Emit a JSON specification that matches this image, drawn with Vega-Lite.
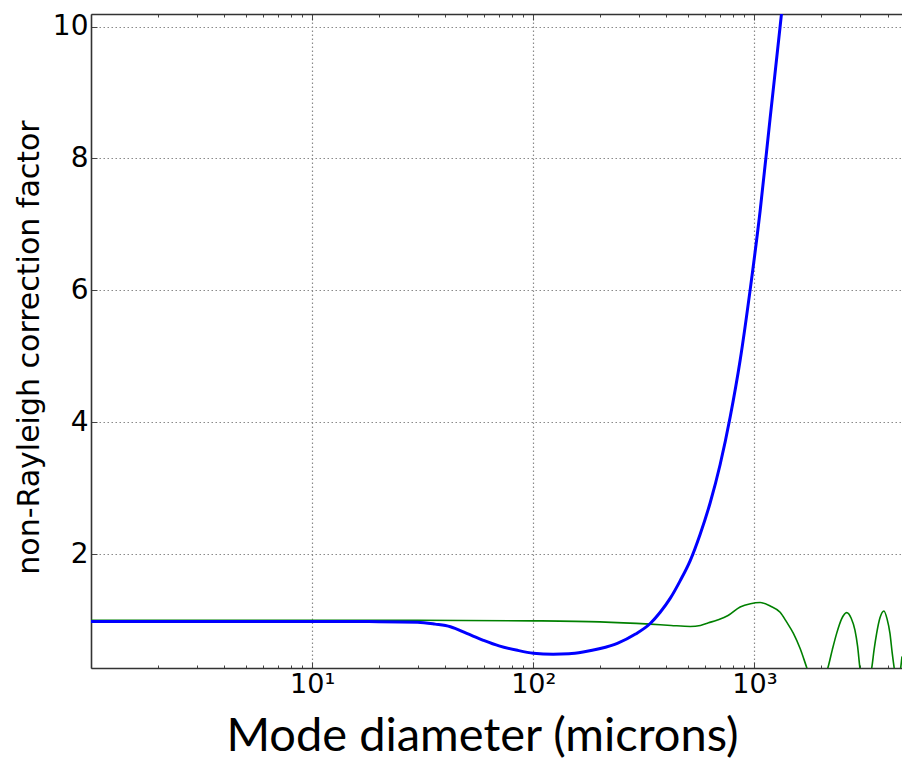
{
  "$schema": "https://vega.github.io/schema/vega-lite/v6.json",
  "width": 811,
  "height": 654,
  "autosize": {"type": "none"},
  "padding": {"left": 91, "top": 14, "right": 0, "bottom": 97},
  "background": "white",
  "config": {"view": {"stroke": null}},
  "datasets": {
    "curveA": [
      {"d": 1, "v": 0.98}, {"d": 3, "v": 0.98}, {"d": 10, "v": 0.98}, {"d": 20, "v": 0.978},
      {"d": 30, "v": 0.97}, {"d": 36, "v": 0.94}, {"d": 42.2, "v": 0.9}, {"d": 50, "v": 0.8},
      {"d": 59.5, "v": 0.695}, {"d": 70, "v": 0.61}, {"d": 84.8, "v": 0.543}, {"d": 100, "v": 0.5},
      {"d": 123, "v": 0.483}, {"d": 145, "v": 0.49}, {"d": 168, "v": 0.517}, {"d": 201, "v": 0.57},
      {"d": 240, "v": 0.65}, {"d": 290, "v": 0.79}, {"d": 338, "v": 0.95}, {"d": 375, "v": 1.12},
      {"d": 416, "v": 1.33}, {"d": 462, "v": 1.6}, {"d": 512, "v": 1.9}, {"d": 568, "v": 2.3},
      {"d": 631, "v": 2.78}, {"d": 700, "v": 3.36}, {"d": 777, "v": 4.08}, {"d": 862, "v": 4.94},
      {"d": 956, "v": 6.0}, {"d": 1061, "v": 7.2}, {"d": 1177, "v": 8.6}, {"d": 1307, "v": 10.0},
      {"d": 1376, "v": 10.7}
    ],
    "curveB": [
      {"d": 1, "v": 1.0}, {"d": 10, "v": 1.0}, {"d": 30, "v": 0.998}, {"d": 100, "v": 0.99},
      {"d": 200, "v": 0.975}, {"d": 338, "v": 0.94}, {"d": 420, "v": 0.92}, {"d": 513, "v": 0.905},
      {"d": 570, "v": 0.92}, {"d": 620, "v": 0.96}, {"d": 676, "v": 1.0}, {"d": 760, "v": 1.07},
      {"d": 862, "v": 1.2}, {"d": 960, "v": 1.25}, {"d": 1061, "v": 1.267}, {"d": 1180, "v": 1.215},
      {"d": 1307, "v": 1.12}, {"d": 1400, "v": 0.97}, {"d": 1501, "v": 0.8}, {"d": 1610, "v": 0.57},
      {"d": 1725, "v": 0.28}, {"d": 1800, "v": 0.1}, {"d": 1930, "v": 0.0}, {"d": 2050, "v": 0.1},
      {"d": 2146, "v": 0.27}, {"d": 2250, "v": 0.55}, {"d": 2355, "v": 0.8}, {"d": 2480, "v": 1.02},
      {"d": 2614, "v": 1.115}, {"d": 2740, "v": 1.03}, {"d": 2849, "v": 0.85}, {"d": 2930, "v": 0.6},
      {"d": 3002, "v": 0.27}, {"d": 3080, "v": 0.1}, {"d": 3200, "v": 0.0}, {"d": 3300, "v": 0.1},
      {"d": 3391, "v": 0.27}, {"d": 3480, "v": 0.56}, {"d": 3571, "v": 0.8}, {"d": 3700, "v": 1.04},
      {"d": 3853, "v": 1.14}, {"d": 3980, "v": 1.02}, {"d": 4102, "v": 0.8}, {"d": 4200, "v": 0.5},
      {"d": 4289, "v": 0.27}, {"d": 4400, "v": 0.05}, {"d": 4500, "v": 0.1}, {"d": 4584, "v": 0.27},
      {"d": 4650, "v": 0.45}
    ]
  },
  "layer": [
    {
      "data": {"name": "curveB"},
      "mark": {"type": "line", "color": "#008000", "strokeWidth": 1.6, "interpolate": "monotone", "clip": true},
      "encoding": {
        "x": {
          "field": "d", "type": "quantitative",
          "scale": {"type": "log", "domain": [1, 4650], "nice": false},
          "axis": {
            "orient": "bottom",
            "values": [1,2,3,4,5,6,7,8,9,10,20,30,40,50,60,70,80,90,100,200,300,400,500,600,700,800,900,1000,2000,3000,4000],
            "labelExpr": "datum.value == 10 ? '10¹' : datum.value == 100 ? '10²' : datum.value == 1000 ? '10³' : ''",
            "grid": true,
            "gridDash": [1.5, 2.5],
            "gridColor": "#8a8a8a",
            "gridWidth": 1.2,
            "gridOpacity": {"condition": {"test": "datum.value == 10 || datum.value == 100 || datum.value == 1000", "value": 1}, "value": 0},
            "tickSize": {"condition": {"test": "datum.value == 10 || datum.value == 100 || datum.value == 1000", "value": -6}, "value": -3},
            "tickColor": "#444",
            "tickWidth": 1,
            "domainColor": "#333",
            "domainWidth": 1.6,
            "labelFont": "DejaVu Sans",
            "labelFontSize": 27,
            "labelColor": "black",
            "labelPadding": 9,
            "labelFlush": false,
            "labelOverlap": false,
            "title": "Mode diameter (microns)",
            "titleFont": "Lato",
            "titleFontSize": 47,
            "titleFontWeight": "normal",
            "titleColor": "black",
            "titleX": 391,
            "titleY": 82,
            "titleBaseline": "alphabetic",
            "titleAlign": "center"
          }
        },
        "y": {
          "field": "v", "type": "quantitative",
          "scale": {"domain": [0.275, 10.19], "nice": false, "zero": false},
          "axis": {
            "values": [2, 4, 6, 8, 10],
            "format": "d",
            "grid": true,
            "gridDash": [1.5, 2.5],
            "gridColor": "#8a8a8a",
            "gridWidth": 1.2,
            "tickSize": -6,
            "tickColor": "#444",
            "domainColor": "#333",
            "domainWidth": 1.6,
            "labelFont": "DejaVu Sans",
            "labelFontSize": 28,
            "labelColor": "black",
            "labelPadding": 9,
            "labelFlush": false,
            "title": "non-Rayleigh correction factor",
            "titleFont": "DejaVu Sans",
            "titleFontSize": 30,
            "titleFontWeight": "normal",
            "titleColor": "black",
            "titleX": -62,
            "titleY": 333,
            "titleBaseline": "middle",
            "titleAlign": "center",
            "titleAngle": -90
          }
        }
      }
    },
    {
      "data": {"name": "curveA"},
      "mark": {"type": "line", "color": "#0000ff", "strokeWidth": 3, "interpolate": "monotone", "clip": true},
      "encoding": {
        "x": {
          "field": "d", "type": "quantitative",
          "scale": {"type": "log", "domain": [1, 4650], "nice": false},
          "axis": {
            "orient": "top",
            "values": [1,2,3,4,5,6,7,8,9,10,20,30,40,50,60,70,80,90,100,200,300,400,500,600,700,800,900,1000,2000,3000,4000],
            "labels": false,
            "grid": false,
            "tickSize": {"condition": {"test": "datum.value == 10 || datum.value == 100 || datum.value == 1000", "value": -6}, "value": -3},
            "tickColor": "#444",
            "domainColor": "#333",
            "domainWidth": 1.6,
            "title": null
          }
        },
        "y": {"field": "v", "type": "quantitative", "scale": {"domain": [0.275, 10.19], "nice": false, "zero": false}}
      }
    }
  ],
  "resolve": {"axis": {"x": "independent"}}
}
